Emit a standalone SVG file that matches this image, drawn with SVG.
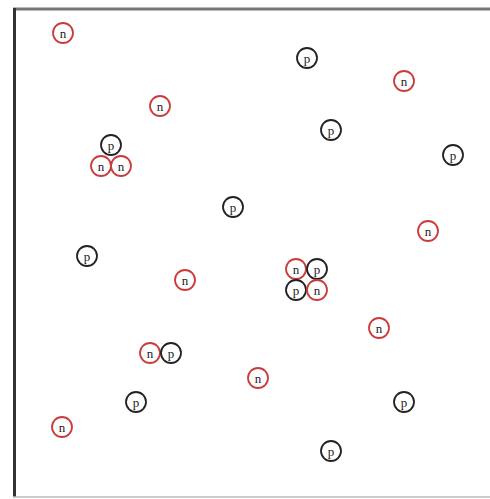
<svg xmlns="http://www.w3.org/2000/svg" width="490" height="499" viewBox="0 0 490 499">
<style>
.n circle{fill:#fff;stroke:#cc3b3b;stroke-width:1.8}
.p circle{fill:#fff;stroke:#222;stroke-width:1.8}
text{font-family:"Liberation Serif",serif;font-size:13px;fill:#222;text-anchor:middle;dominant-baseline:central}
</style>
<rect x="0" y="0" width="490" height="499" fill="#fff"/>
<g id="frame">
<line x1="13" y1="9" x2="490" y2="9" stroke="#777" stroke-width="3"/>
<line x1="14.5" y1="8" x2="14.5" y2="497" stroke="#333" stroke-width="3"/>
<line x1="13" y1="497" x2="490" y2="497" stroke="#bbb" stroke-width="1.5"/>
</g>
<g id="connectors"></g>
<g id="n1" class="n"><circle cx="63" cy="33" r="10"/><text x="63" y="33">n</text></g>
<g id="p1" class="p"><circle cx="307" cy="58" r="10"/><text x="307" y="58">p</text></g>
<g id="n2" class="n"><circle cx="404" cy="81" r="10"/><text x="404" y="81">n</text></g>
<g id="n3" class="n"><circle cx="160" cy="106" r="10"/><text x="160" y="106">n</text></g>
<g id="p2" class="p"><circle cx="331" cy="130" r="10"/><text x="331" y="130">p</text></g>
<g id="n4" class="n"><circle cx="101" cy="166" r="10"/><text x="101" y="166">n</text></g>
<g id="n5" class="n"><circle cx="121" cy="166" r="10"/><text x="121" y="166">n</text></g>
<g id="p3" class="p"><circle cx="111" cy="145" r="10"/><text x="111" y="145">p</text></g>
<g id="p4" class="p"><circle cx="453" cy="155" r="10"/><text x="453" y="155">p</text></g>
<g id="p5" class="p"><circle cx="233" cy="207" r="10"/><text x="233" y="207">p</text></g>
<g id="n6" class="n"><circle cx="428" cy="231" r="10"/><text x="428" y="231">n</text></g>
<g id="p6" class="p"><circle cx="87" cy="256" r="10"/><text x="87" y="256">p</text></g>
<g id="n7" class="n"><circle cx="185" cy="280" r="10"/><text x="185" y="280">n</text></g>
<g id="n8" class="n"><circle cx="296" cy="269" r="10"/><text x="296" y="269">n</text></g>
<g id="p7" class="p"><circle cx="317" cy="269" r="10"/><text x="317" y="269">p</text></g>
<g id="p8" class="p"><circle cx="296" cy="290" r="10"/><text x="296" y="290">p</text></g>
<g id="n9" class="n"><circle cx="317" cy="290" r="10"/><text x="317" y="290">n</text></g>
<g id="n10" class="n"><circle cx="379" cy="328" r="10"/><text x="379" y="328">n</text></g>
<g id="n11" class="n"><circle cx="150" cy="353" r="10"/><text x="150" y="353">n</text></g>
<g id="p9" class="p"><circle cx="171" cy="353" r="10"/><text x="171" y="353">p</text></g>
<g id="n12" class="n"><circle cx="258" cy="378" r="10"/><text x="258" y="378">n</text></g>
<g id="p10" class="p"><circle cx="136" cy="402" r="10"/><text x="136" y="402">p</text></g>
<g id="p11" class="p"><circle cx="404" cy="402" r="10"/><text x="404" y="402">p</text></g>
<g id="n13" class="n"><circle cx="62" cy="427" r="10"/><text x="62" y="427">n</text></g>
<g id="p12" class="p"><circle cx="331" cy="451" r="10"/><text x="331" y="451">p</text></g>
</svg>
